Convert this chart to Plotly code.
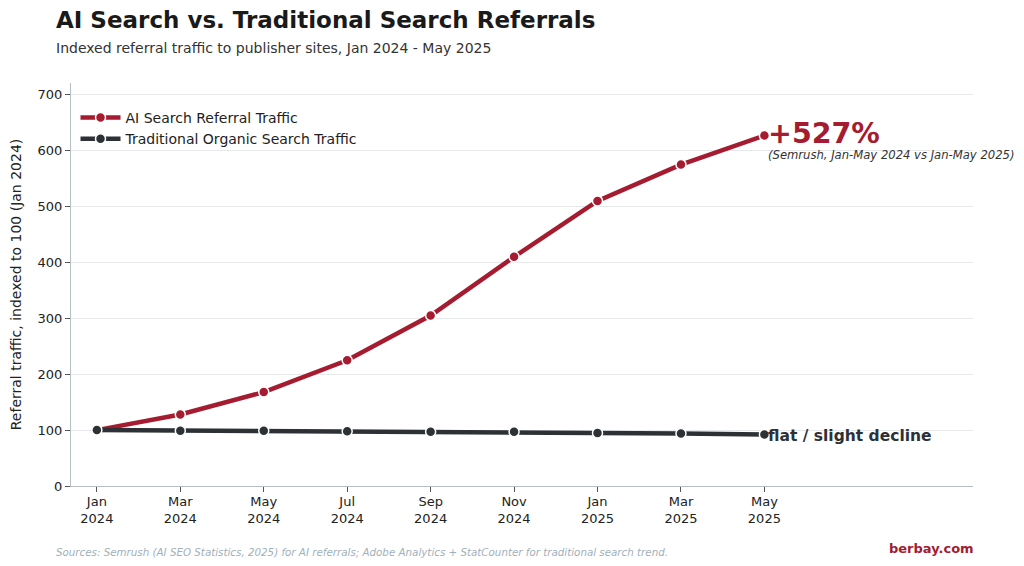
import plotly.graph_objects as go

months = ["Jan 2024", "Mar 2024", "May 2024", "Jul 2024", "Sep 2024", "Nov 2024", "Jan 2025", "Mar 2025", "May 2025"]
month_idx = [0, 2, 4, 6, 8, 10, 12, 14, 16]
tick_labels = ["Jan<br>2024", "Mar<br>2024", "May<br>2024", "Jul<br>2024", "Sep<br>2024", "Nov<br>2024", "Jan<br>2025", "Mar<br>2025", "May<br>2025"]
ai_traffic = [100, 128, 168, 225, 305, 410, 510, 575, 627]
traditional_traffic = [100, 99, 99, 98, 97, 97, 95, 94, 92]
y_ticks = [0, 100, 200, 300, 400, 500, 600, 700]

RED = "#a51b2f"
DARK = "#2d3136"
FONT = "DejaVu Sans"
PW = 902.0
PH = 403.0

fig = go.Figure()
fig.add_trace(go.Scatter(
    x=month_idx, y=ai_traffic, mode="lines+markers", name="AI Search Referral Traffic",
    line=dict(color=RED, width=4.5),
    marker=dict(size=10, color=RED, line=dict(color="white", width=1.5)),
))
fig.add_trace(go.Scatter(
    x=month_idx, y=traditional_traffic, mode="lines+markers", name="Traditional Organic Search Traffic",
    line=dict(color=DARK, width=4.5),
    marker=dict(size=10, color=DARK, line=dict(color="white", width=1.5)),
))

fig.update_layout(
    width=1024, height=566,
    margin=dict(l=71, r=51, t=83, b=80),
    paper_bgcolor="white", plot_bgcolor="white",
    font=dict(family=FONT, size=13, color="#222222"),
    showlegend=True,
    legend=dict(x=0.005, y=0.953, xanchor="left", yanchor="top",
                font=dict(size=14, color="#222222"), bgcolor="rgba(255,255,255,0)",
                itemwidth=40, tracegroupgap=0),
    xaxis=dict(
        range=[-0.62, 21.0], tickmode="array", tickvals=month_idx, ticktext=tick_labels,
        showgrid=False, zeroline=False, showline=True, linecolor="#b8bfc4", linewidth=1.2,
        ticks="outside", ticklen=5, tickcolor="#555555", tickfont=dict(size=13, color="#222222"),
        ticklabelstandoff=-2,
    ),
    yaxis=dict(
        range=[0, 721], tickmode="array", tickvals=y_ticks,
        showgrid=True, gridcolor="#e6e9eb", gridwidth=1, zeroline=False,
        showline=True, linecolor="#b8bfc4", linewidth=1.2,
        ticks="outside", ticklen=5, tickcolor="#555555", tickfont=dict(size=13, color="#222222"),
        title=dict(text="Referral traffic, indexed to 100 (Jan 2024)", font=dict(size=14, color="#222222"), standoff=12),
    ),
)

LX = -(71-54)/PW
fig.add_annotation(xref="paper", yref="paper", x=LX, y=1+(83-20)/PH, xanchor="left", yanchor="middle",
                   text="<b>AI Search vs. Traditional Search Referrals</b>", showarrow=False,
                   font=dict(size=23, color="#1a1a1a"))
fig.add_annotation(xref="paper", yref="paper", x=LX, y=1+(83-48)/PH, xanchor="left", yanchor="middle",
                   text="Indexed referral traffic to publisher sites, Jan 2024 - May 2025", showarrow=False,
                   font=dict(size=14, color="#333333"))

fig.add_annotation(x=month_idx[-1], y=ai_traffic[-1], xanchor="left", yanchor="middle", xshift=2, yshift=2,
                   text="<b>+527%</b>", showarrow=False, font=dict(size=28.5, color=RED))
fig.add_annotation(x=month_idx[-1], y=ai_traffic[-1], xanchor="left", yanchor="middle", xshift=2, yshift=-19,
                   text="<i>(Semrush, Jan-May 2024 vs Jan-May 2025)</i>", showarrow=False, font=dict(size=11.6, color="#333333"))
fig.add_annotation(x=month_idx[-1], y=traditional_traffic[-1], xanchor="left", yanchor="middle", xshift=2, yshift=-1,
                   text="<b>flat / slight decline</b>", showarrow=False, font=dict(size=15.5, color=DARK))

fig.add_annotation(xref="paper", yref="paper", x=LX, y=-(552-486)/PH, xanchor="left", yanchor="middle",
                   text="<i>Sources: Semrush (AI SEO Statistics, 2025) for AI referrals; Adobe Analytics + StatCounter for traditional search trend.</i>",
                   showarrow=False, font=dict(size=10.3, color="#9fb0bb"))
fig.add_annotation(xref="paper", yref="paper", x=1.0 + 3/PW, y=-(548-486)/PH, xanchor="right", yanchor="middle",
                   text="<b>berbay.com</b>", showarrow=False, font=dict(size=13, color=RED))

fig.write_html("out.html")
